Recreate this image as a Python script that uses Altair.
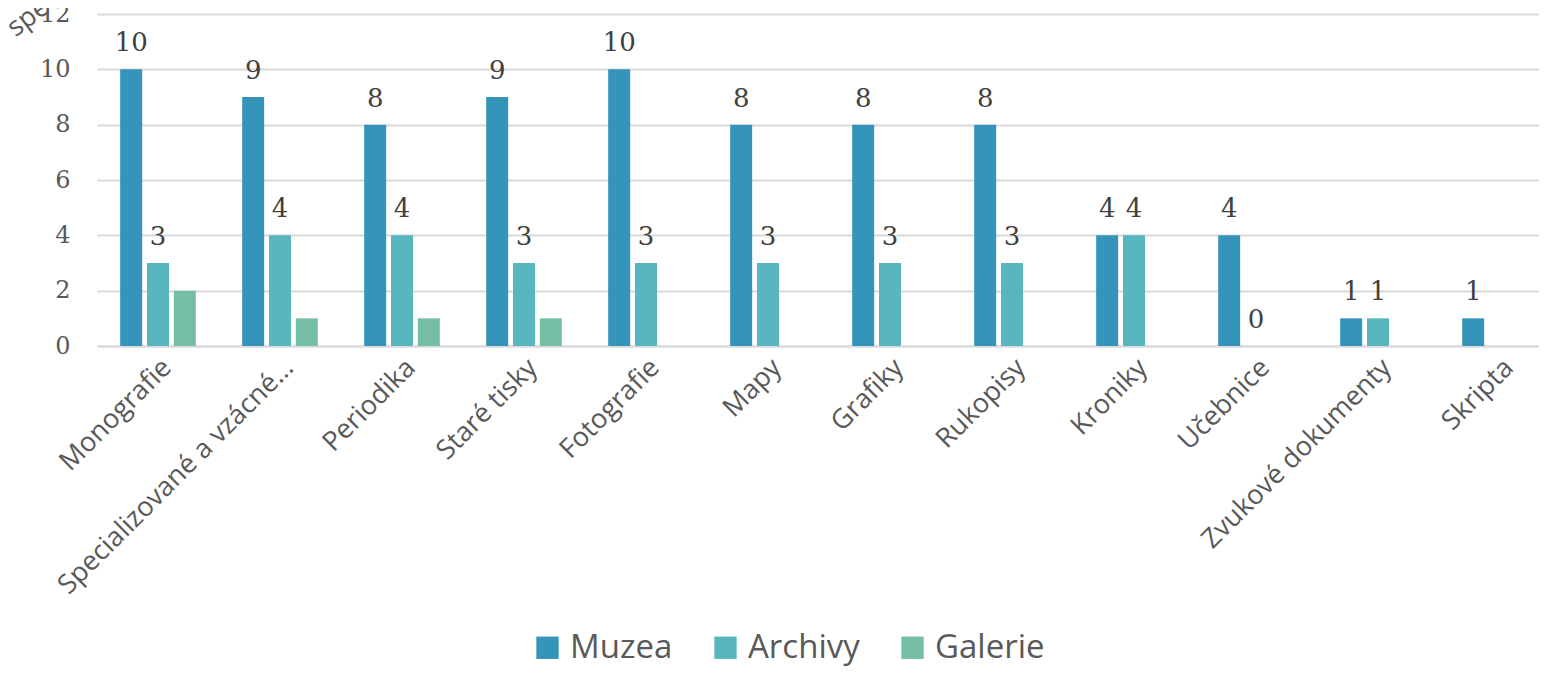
import altair as alt
import pandas as pd

categories = ["Monografie", "Specializované a vzácné…", "Periodika", "Staré tisky",
              "Fotografie", "Mapy", "Grafiky", "Rukopisy", "Kroniky", "Učebnice",
              "Zvukové dokumenty", "Skripta"]
series = ["Muzea", "Archivy", "Galerie"]
muzea = [10, 9, 8, 9, 10, 8, 8, 8, 4, 4, 1, 1]
archivy = [3, 4, 4, 3, 3, 3, 3, 3, 4, 0, 1, None]
galerie = [2, 1, 1, 1, None, None, None, None, None, None, None, None]
labelled_series = ["Muzea", "Archivy"]
colors = ["#3494BA", "#58B6C0", "#75BDA7"]

rows = []
for name, vals in zip(series, [muzea, archivy, galerie]):
    for c, v in zip(categories, vals):
        if v is not None:
            rows.append({"kategorie": c, "serie": name, "hodnota": v})
df = pd.DataFrame(rows)

xscale = alt.Scale(domain=categories, paddingInner=0.38, paddingOuter=0.19,
                   range=[0, 1464])
x = alt.X("kategorie:N", sort=categories, scale=xscale,
          axis=alt.Axis(title=None, labelAngle=-45, labelFont="Open Sans",
                        labelFontSize=27, labelColor="#595959", ticks=False,
                        domainColor="#d9d9d9", domainWidth=2, labelPadding=8,
                        labelLimit=400))
xo = alt.XOffset("serie:N", sort=series,
                 scale=alt.Scale(domain=series, paddingInner=0.18))
y = alt.Y("hodnota:Q", scale=alt.Scale(domain=[0, 12]),
          axis=alt.Axis(values=[0, 2, 4, 6, 8, 10, 12], title="spec",
                        titleAngle=323, titleX=-82, titleY=23, titleAlign="left",
                        titleBaseline="alphabetic", titleFont="Open Sans",
                        titleFontSize=27, titleFontWeight="normal", titleColor="#595959",
                        labelFont="DejaVu Serif", labelFontSize=24, labelColor="#595959",
                        ticks=False, domain=False, gridColor="#d9d9d9", gridWidth=2,
                        labelPadding=27))
color = alt.Color("serie:N", sort=series,
                  scale=alt.Scale(domain=series, range=colors),
                  legend=alt.Legend(title=None, orient="none", direction="horizontal",
                                    legendX=434, legendY=617, symbolType="square",
                                    symbolSize=500, symbolStrokeWidth=0,
                                    labelFont="Open Sans", labelFontSize=33,
                                    labelColor="#595959", labelOffset=6,
                                    columnPadding=36))

bars = alt.Chart(df).mark_bar().encode(x=x, xOffset=xo, y=y, color=color)
labels = alt.Chart(df).transform_filter(
    alt.FieldOneOfPredicate(field="serie", oneOf=labelled_series)
).mark_text(baseline="alphabetic", dy=-18, font="DejaVu Serif",
            fontSize=26, color="#404040").encode(
    x=alt.X("kategorie:N", sort=categories, scale=xscale), xOffset=xo, y="hodnota:Q",
    text="hodnota:Q")

chart = (bars + labels).properties(
    width=1442, height=332,
    autosize=alt.AutoSizeParams(type="none"),
    padding={"left": 89, "top": 6, "right": 0, "bottom": 323},
).configure_view(stroke=None)

chart.save("out.html", embed_options={"renderer": "svg", "actions": False})
